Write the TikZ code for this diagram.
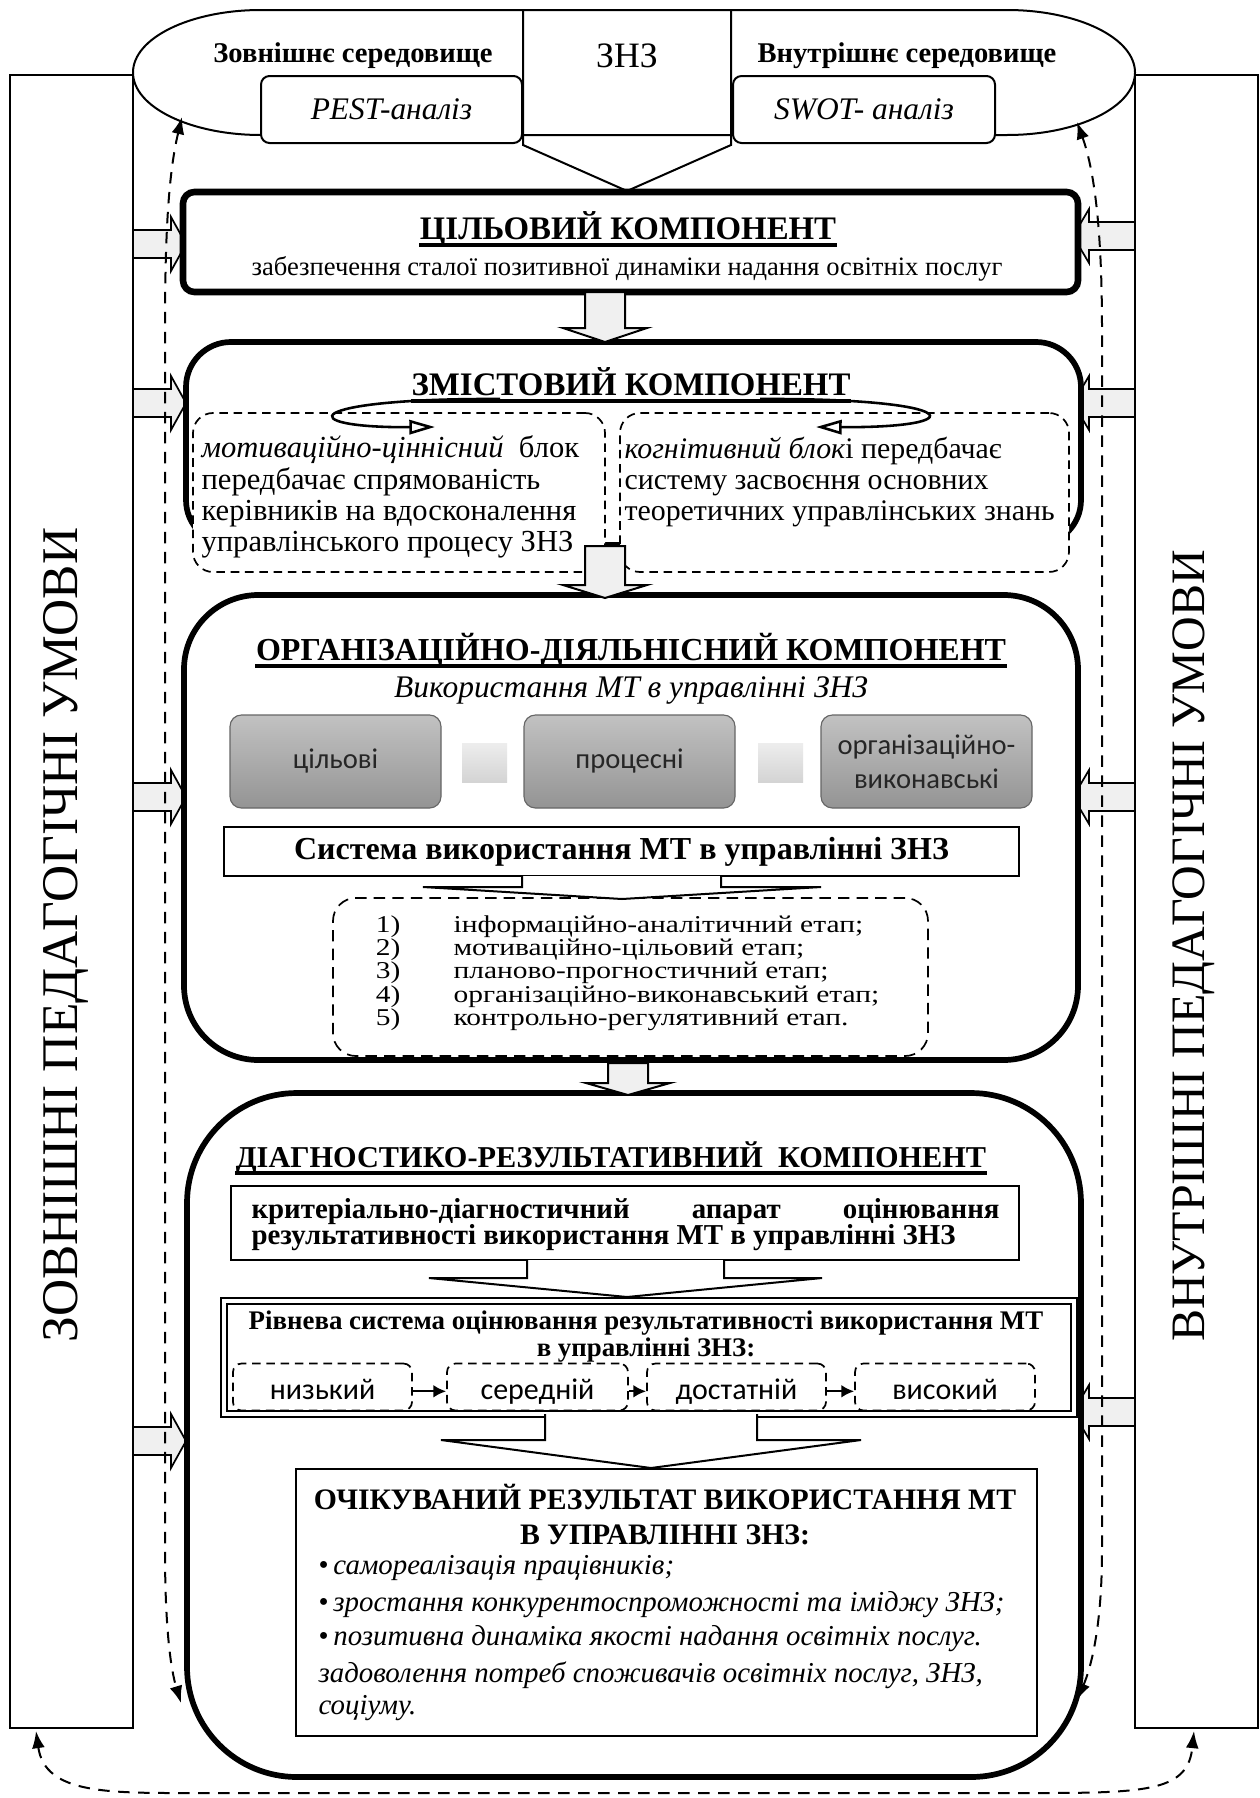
\documentclass[tikz,border=0pt]{standalone}
\usepackage{fontspec}
\setmainfont{Liberation Serif}
\newfontfamily\calib{Carlito}
\newfontfamily\widerm{Liberation Serif}[FakeStretch=1.22]
\usetikzlibrary{arrows.meta}
\newcommand{\setfs}[2]{\fontsize{#1}{#2}\selectfont\lineskiplimit=-20pt\relax}

\begin{document}
\begin{tikzpicture}[x=0.35pt, y=-0.35pt,
  condbox/.style={draw, line width=0.7pt, fill=white, inner sep=0pt},
  comp/.style={draw, line width=2pt, fill=white, inner sep=0pt},
  dashbox/.style={draw, dash pattern=on 3pt off 2pt, line width=0.6pt, fill=white, inner sep=0pt},
  graybox/.style={draw=black!60, rounded corners=4pt, top color=black!24, bottom color=black!42, inner sep=0pt, minimum width=73.85pt, minimum height=32.55pt, align=center, text=black!85, font=\calib\setfs{10}{12}},
  linkbox/.style={inner sep=0pt, minimum width=15.75pt, minimum height=13.65pt, top color=black!7, bottom color=black!17},
  levbox/.style={draw, dash pattern=on 3pt off 2pt, line width=0.6pt, rounded corners=3pt, inner sep=0pt, minimum height=16.45pt, text height=10.5pt, text depth=1.5pt, font=\calib\setfs{10.5}{12}},
  sidearr/.style={draw, line width=0.6pt, fill=black!6},
  downarr/.style={draw, line width=0.7pt, fill=black!6},
  widearr/.style={draw, line width=0.7pt, fill=white},
  fb/.style={dash pattern=on 4pt off 3pt, line width=0.7pt, {Latex[length=6pt,width=4.5pt]}-{Latex[length=6pt,width=4.5pt]}},
  levarr/.style={line width=0.8pt, -{Latex[length=4.5pt,width=4.5pt]}},
  swirl/.style={line width=0.9pt, -{Triangle[open,length=9pt,width=5pt]}},
  uline/.style={line width=1.4pt},
  ttl/.style={inner sep=0pt, font=\bfseries\setfs{11.5}{13}}
]
\useasboundingbox (0,0) rectangle (1260,1798);

\node[condbox, minimum width=43.05pt, minimum height=578.55pt] (outcond) at (71.5,901.5) {};
\node[condbox, minimum width=43.05pt, minimum height=578.55pt] (incond) at (1196.5,901.5) {};
\node[rotate=90, font=\setfs{18}{20}] (outtxt) at (66,935) {ЗОВНІШНІ ПЕДАГОГІЧНІ УМОВИ};
\node[rotate=90, font=\setfs{16.8}{20}] (intxt) at (1194,946) {ВНУТРІШНІ ПЕДАГОГІЧНІ УМОВИ};

\draw[line width=0.7pt] (261,10) -- (1007,10) arc[start angle=-90, end angle=90, x radius=128, y radius=62.5]
  -- (261,135) arc[start angle=90, end angle=270, x radius=128, y radius=62.5] -- cycle;
\draw[line width=0.7pt] (523,10) -- (523,145) -- (627,191) -- (731,145) -- (731,10);
\node[anchor=base, font=\setfs{12.5}{14}] (zns) at (627,67) {ЗНЗ};
\node[anchor=base, font=\bfseries\setfs{10}{12}] (outenv) at (353,63) {Зовнішнє середовище};
\node[anchor=base, font=\bfseries\setfs{10}{12}] (inenv) at (907,63) {Внутрішнє середовище};
\node[condbox, rounded corners=3pt, minimum width=91.35pt, minimum height=23.45pt, font=\itshape\setfs{11}{13}] (pest) at (391.5,109.5) {PEST-аналіз};
\node[condbox, rounded corners=3pt, minimum width=91.7pt, minimum height=23.45pt, font=\itshape\setfs{11}{13}] (swot) at (864,109.5) {SWOT- аналіз};

\foreach \yy in {244,403,797,1441}
  \draw[sidearr] (133,\yy-14) -- (171,\yy-14) -- (171,\yy-27) -- (186,\yy) -- (171,\yy+27) -- (171,\yy+14) -- (133,\yy+14) -- cycle;
\foreach \yy in {236,403,797,1412}
  \draw[sidearr] (1135,\yy-14) -- (1089,\yy-14) -- (1089,\yy-27) -- (1073,\yy) -- (1089,\yy+27) -- (1089,\yy+14) -- (1135,\yy+14) -- cycle;

\coordinate (fblt) at (182,117);
\coordinate (fblb) at (181,1703);
\coordinate (fbrt) at (1077,122);
\coordinate (fbrb) at (1077,1700);
\coordinate (cyclel) at (36,1731);
\coordinate (cycler) at (1194,1731);
\draw[fb] (fblt) .. controls (168,175) and (165,240) .. (165,330) -- (165,1550) .. controls (165,1630) and (171,1670) .. (fblb);
\draw[fb] (fbrt) .. controls (1096,175) and (1102,240) .. (1102,330) -- (1102,1550) .. controls (1102,1630) and (1090,1670) .. (fbrb);
\draw[fb] (cyclel) .. controls (45,1795) and (110,1793) .. (200,1793) -- (1040,1793) .. controls (1150,1793) and (1188,1790) .. (cycler);

\node[comp, line width=2.3pt, rounded corners=4pt, minimum width=313.25pt, minimum height=35pt] (goal) at (630.5,242) {};
\node[ttl, anchor=base] (goaltitle) at (628,239) {ЦІЛЬОВИЙ КОМПОНЕНТ};
\draw[uline] ([yshift=-2pt]goaltitle.base west) -- ([yshift=-2pt]goaltitle.base east);
\node[anchor=base, inner sep=0pt, font=\setfs{9.3}{11}] (goalsub) at (627,275) {забезпечення сталої позитивної динаміки надання освітніх послуг};

\node[comp, rounded corners=15.75pt, minimum width=313.25pt, minimum height=71.05pt] (content) at (633.5,443.5) {};
\node[ttl, anchor=base] (contitle) at (631,395) {ЗМІСТОВИЙ КОМПОНЕНТ};
\draw[uline] ([yshift=-2pt]contitle.base west) -- ([yshift=-2pt]contitle.base east);
\node[dashbox, rounded corners=7pt, minimum width=144.2pt, minimum height=55.65pt] (motblock) at (399,492.5) {};
\node[dashbox, rounded corners=7pt, minimum width=157.15pt, minimum height=55.65pt] (cogblock) at (844.5,492.5) {};
\draw[swirl] (500,399) .. controls (300,398) and (290,428) .. (435,427);
\draw[swirl] (760,399) .. controls (965,398) and (975,428) .. (816,427);
\node[anchor=west, align=left, inner sep=0pt, font=\setfs{10.7}{10.9}] (mottext) at (201,497)
  {\textit{мотиваційно-ціннісний}~ блок\\передбачає спрямованість\\керівників на вдосконалення\\управлінського процесу ЗНЗ};
\node[anchor=west, align=left, inner sep=0pt, font=\setfs{10.45}{10.9}] (cogtext) at (624,482)
  {\textit{когнітивний блок}і передбачає\\систему засвоєння основних\\теоретичних управлінських знань};

\node[comp, rounded corners=26pt, minimum width=312.9pt, minimum height=162.75pt] (org) at (631,827.5) {};
\node[ttl, font=\bfseries\setfs{11.2}{13}, anchor=base] (orgtitle) at (631,660) {ОРГАНІЗАЦІЙНО-ДІЯЛЬНІСНИЙ КОМПОНЕНТ};
\draw[uline] ([yshift=-2pt]orgtitle.base west) -- ([yshift=-2pt]orgtitle.base east);
\node[anchor=base, inner sep=0pt, font=\itshape\setfs{11}{13}] (orgsub) at (631,697) {Використання МТ в управлінні ЗНЗ};
\foreach \nm/\cx/\txt in {g1/335.5/цільові, g2/629.5/процесні, g3/926.5/{організаційно-\\виконавські}}
  \node[graybox] (\nm) at (\cx,761.5) {\txt};
\foreach \nm/\cx in {s1/484.5, s2/780.5}
  \node[linkbox] (\nm) at (\cx,762.5) {};
\node[condbox, line width=0.8pt, minimum width=278.25pt, minimum height=17.15pt, font=\bfseries\setfs{11.2}{14}] (sys) at (621.5,851.5) {Система використання МТ в управлінні ЗНЗ};
\node[dashbox, dash pattern=on 4pt off 2.5pt, rounded corners=8pt, minimum width=208.25pt, minimum height=55.3pt] (stages) at (630.5,977) {};
\foreach \n/\yy/\txt in {1/927/інформаційно-аналітичний етап;, 2/950/мотиваційно-цільовий етап;, 3/973/планово-прогностичний етап;, 4/997/організаційно-виконавський етап;, 5/1020/контрольно-регулятивний етап.}
{
  \node[anchor=east, inner sep=0pt, font=\widerm\setfs{8.45}{9}] (num\n) at (401,\yy) {\n)};
  \node[anchor=west, inner sep=0pt, font=\widerm\setfs{8.45}{9}] (stage\n) at (453,\yy) {\txt};
}

\node[comp, rounded corners=38.5pt, minimum width=312.9pt, minimum height=239.4pt] (diag) at (634,1435) {};
\node[ttl, font=\bfseries\setfs{10.6}{13}, anchor=base] (diagtitle) at (611,1167) {ДІАГНОСТИКО-РЕЗУЛЬТАТИВНИЙ\ \ КОМПОНЕНТ};
\draw[uline] ([yshift=-2pt]diagtitle.base west) -- ([yshift=-2pt]diagtitle.base east);
\node[condbox, minimum width=275.8pt, minimum height=25.9pt] (crit) at (625,1223) {};
\node[anchor=base west, inner sep=0pt, font=\bfseries\setfs{10.1}{12}] (crit1) at (251,1218)
  {\hbox to 261.8pt{критеріально-діагностичний\hfill апарат\hfill оцінювання}};
\node[anchor=base west, inner sep=0pt, font=\bfseries\setfs{10.1}{12}] (crit2) at (251,1244)
  {результативності використання МТ в управлінні ЗНЗ};
\node[condbox, double, double distance=1.2pt, minimum width=297.5pt, minimum height=39.55pt] (lvl) at (649,1357.5) {};
\node[inner sep=0pt, align=center, font=\bfseries\setfs{9.4}{9.45}] (lvltitle) at (646,1337)
  {Рівнева система оцінювання результативності використання МТ\\в управлінні ЗНЗ:};
\foreach \nm/\cx/\ww/\txt in {l1/322.5/62.65/низький, l2/537.5/63.35/середній, l3/736.5/62.65/достатній, l4/945/63/високий}
  \node[levbox, minimum width=\ww pt] (\nm) at (\cx,1387) {\txt};
\foreach \a/\b in {l1/l2, l2/l3, l3/l4}
  \draw[levarr] ([yshift=-1.5pt]\a.east) -- ([yshift=-1.5pt]\b.west);

\node[condbox, line width=0.8pt, minimum width=259.35pt, minimum height=93.45pt] (result) at (666.5,1602.5) {};
\node[inner sep=0pt, align=center, font=\bfseries\setfs{10.4}{12.25}] (restitle) at (665,1515)
  {ОЧІКУВАНИЙ РЕЗУЛЬТАТ ВИКОРИСТАННЯ МТ\\В УПРАВЛІННІ ЗНЗ:};
\node[anchor=west, inner sep=0pt, font=\itshape\setfs{10.1}{12}] (res1) at (318,1568) {\upshape\textbullet\,\itshape самореалізація працівників;};
\node[anchor=west, inner sep=0pt, font=\itshape\setfs{10.1}{12}] (res2) at (318,1605) {\upshape\textbullet\,\itshape зростання конкурентоспроможності та іміджу ЗНЗ;};
\node[anchor=west, inner sep=0pt, font=\itshape\setfs{10.1}{12}] (res3) at (318,1639) {\upshape\textbullet\,\itshape позитивна динаміка якості надання освітніх послуг.};
\node[anchor=west, inner sep=0pt, font=\itshape\setfs{10.1}{12}] (res4) at (318,1675) {задоволення потреб споживачів освітніх послуг, ЗНЗ,};
\node[anchor=west, inner sep=0pt, font=\itshape\setfs{10.1}{12}] (res5) at (318,1708) {соціуму.};

\foreach \cx/\ya/\yb/\yc in {605/292/328/342, 605/546/585/598, 628/1063/1083/1095}
  \draw[downarr] (\cx-20,\ya) -- (\cx-20,\yb) -- (\cx-42,\yb) -- (\cx,\yc) -- (\cx+42,\yb) -- (\cx+20,\yb) -- (\cx+20,\ya) -- cycle;
\foreach \xa/\xb/\ya/\yb/\xc/\xd/\xt/\yt in {522/721/876/887/423/821/622/899, 527/724/1260/1278/429/822/627/1297, 545/757/1414/1440/441/861/651/1468}
  \draw[widearr] (\xa,\ya) -- (\xa,\yb) -- (\xc,\yb) -- (\xt,\yt) -- (\xd,\yb) -- (\xb,\yb) -- (\xb,\ya);
\end{tikzpicture}
\end{document}
